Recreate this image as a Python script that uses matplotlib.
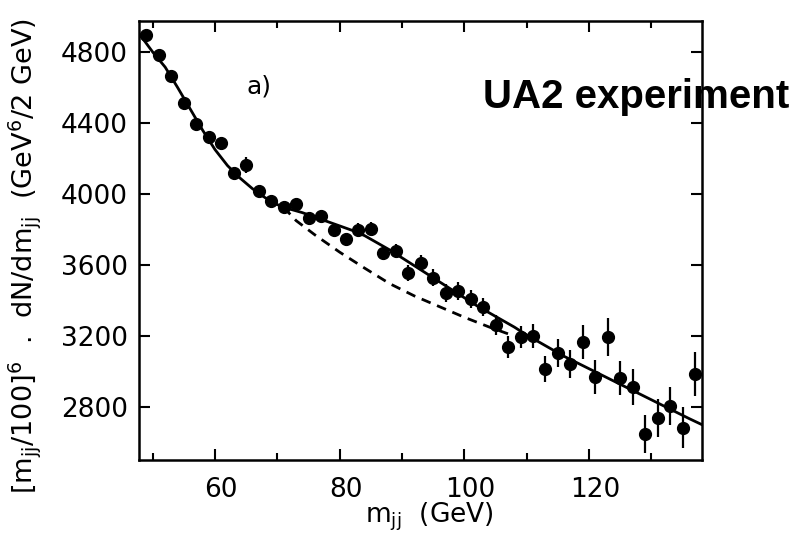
import matplotlib.pyplot as plt
import matplotlib.transforms as mtransforms

# 데이터: 질량 구간 중심 (GeV), 값, 오차
m_jj = [49, 51, 53, 55, 57, 59, 61, 63, 65, 67, 69, 71, 73, 75, 77, 79, 81, 83, 85, 87,
        89, 91, 93, 95, 97, 99, 101, 103, 105, 107, 109, 111, 113, 115, 117, 119, 121,
        123, 125, 127, 129, 131, 133, 135, 137]
counts = [4895, 4783, 4665, 4513, 4394, 4321, 4287, 4118, 4163, 4017, 3961, 3927, 3944,
          3865, 3876, 3797, 3746, 3797, 3803, 3668, 3679, 3555, 3611, 3527, 3442, 3454,
          3408, 3363, 3262, 3138, 3194, 3200, 3014, 3104, 3042, 3166, 2969, 3194, 2963,
          2913, 2648, 2738, 2806, 2682, 2986]
errors = [20, 20, 20, 22, 22, 22, 24, 25, 45, 25, 25, 28, 28, 30, 30, 32, 32, 40, 40, 40,
          42, 45, 45, 48, 48, 50, 50, 52, 55, 60, 62, 70, 75, 78, 80, 95, 95, 105, 95,
          100, 105, 105, 105, 115, 125]

# 전체 피트 (실선)
fit_x = [47.8, 50, 52, 54, 56, 58, 60, 62, 64, 66, 68, 70, 72, 74, 76, 78, 80, 82, 84, 86,
         88, 90, 92, 94, 96, 98, 100, 102, 104, 106, 108, 110, 112, 114, 116, 118, 120,
         122, 124, 126, 128, 130, 132, 134, 136, 138.1]
fit_y = [4905, 4800, 4715, 4600, 4480, 4360, 4250, 4160, 4090, 4030, 3980, 3940, 3915,
         3895, 3870, 3845, 3820, 3795, 3765, 3725, 3685, 3640, 3595, 3550, 3505, 3460,
         3415, 3370, 3330, 3290, 3250, 3205, 3165, 3125, 3085, 3050, 3015, 2980, 2945,
         2910, 2875, 2840, 2805, 2770, 2735, 2700]

# 배경만 (점선)
bkg_x = [71, 73, 76, 80, 84, 88, 92, 96, 100, 104, 107]
bkg_y = [3925, 3850, 3770, 3672, 3582, 3495, 3425, 3365, 3305, 3250, 3212]

plt.rcParams['font.family'] = ['DejaVu Sans']
plt.rcParams['mathtext.default'] = 'regular'

fig = plt.figure(figsize=(7.96, 5.48), dpi=100)
ax = fig.add_axes([0.1746, 0.1606, 0.7073, 0.8011])

ax.plot(fit_x, fit_y, color='black', lw=2.0, zorder=2)
ax.plot(bkg_x, bkg_y, color='black', lw=2.0, dashes=(3.5, 2.5), zorder=2)
ax.errorbar(m_jj, counts, yerr=errors, fmt='o', color='black', ms=8.5,
            elinewidth=1.6, capsize=0, zorder=3)

ax.set_xlim(47.8, 138.1)
ax.set_ylim(2501, 4975)
ax.set_xticks([60, 80, 100, 120])
ax.set_xticks([50, 70, 90, 110, 130], minor=True)
ax.set_yticks([2800, 3200, 3600, 4000, 4400, 4800])

ax.tick_params(which='both', direction='in', top=True, right=True, width=1.5)
ax.tick_params(which='major', length=8)
ax.tick_params(which='minor', length=5)
ax.tick_params(axis='x', labelsize=19, pad=12)
ax.tick_params(axis='y', labelsize=19, pad=8)
for s in ax.spines.values():
    s.set_linewidth(1.8)

# 원본 스캔처럼 x 눈금 글자를 살짝 오른쪽으로
shift = mtransforms.ScaledTranslation(6 / 100, 0, fig.dpi_scale_trans)
for lab in ax.get_xticklabels():
    lab.set_transform(lab.get_transform() + shift)

ax.set_xlabel(r'$m_{jj}$  (GeV)', fontsize=19)
ax.xaxis.set_label_coords(0.515, -0.092)
ax.set_ylabel(r'$[m_{jj}/100]^6$  .  dN/d$m_{jj}$  (GeV$^6$/2 GeV)', fontsize=19.5)
ax.yaxis.set_label_coords(-0.17, 0.465)

ax.text(67, 4608, 'a)', fontsize=18, ha='center', va='center')
fig.text(483 / 796, 1 - 108 / 548, 'UA2 experiment', fontsize=29, fontweight='bold',
         family='Liberation Sans', ha='left', va='baseline')

fig.savefig('out.png', dpi=100)
